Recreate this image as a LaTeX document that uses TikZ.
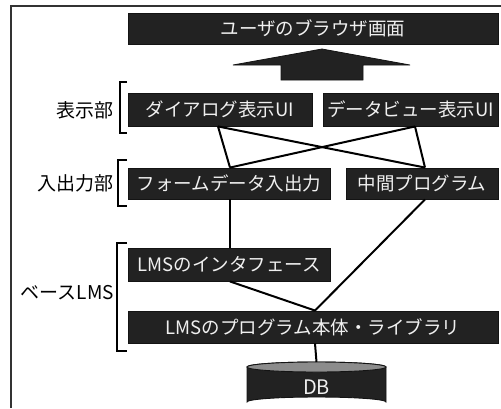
\documentclass[tikz,border=0pt]{standalone}
\usepackage{fontspec}
\setmainfont{Noto Sans CJK JP}
\definecolor{boxc}{RGB}{34,34,34}
\definecolor{edgec}{RGB}{20,20,20}
\definecolor{dbtop}{RGB}{140,140,140}
\begin{document}
\begin{tikzpicture}[x=1pt,y=-1pt,
  blk/.style={draw=edgec, fill=boxc, text={rgb,255:red,240;green,240;blue,240}, inner sep=0pt, line width=0.9pt,
    font=\fontsize{18.5}{20}\selectfont},
  lab/.style={anchor=east, inner sep=0pt, font=\fontsize{19}{20}\selectfont},
  conn/.style={line width=2pt, black},
  brk/.style={line width=1.8pt, black}]
\useasboundingbox (0,0) rectangle (501,408);
% frame
\draw[line width=1.2pt, black!80] (11,408) -- (11,6) -- (501,6);
% boxes
\node[blk, minimum width=370pt, minimum height=31pt] (top) at (313,28.5) {ユーザのブラウザ画面};
\node[blk, minimum width=184pt, minimum height=33pt] (dlg) at (220,109.5) {ダイアログ表示UI};
\node[blk, minimum width=175pt, minimum height=33pt] (dv) at (410.5,109.5) {データビュー表示UI};
\node[blk, minimum width=202pt, minimum height=31pt] (form) at (229,183.5) {フォームデータ入出力};
\node[blk, minimum width=152pt, minimum height=31pt] (mid) at (422,183.5) {中間プログラム};
\node[blk, minimum width=202pt, minimum height=33pt] (lif) at (229,264.5) {LMSのインタフェース};
\node[blk, minimum width=370pt, minimum height=32pt] (lprog) at (313,327) {LMSのプログラム本体・ライブラリ};
% big arrow
\draw[fill=boxc, draw=edgec, line width=0.8pt] (322,49) -- (410,65) -- (363,65) -- (363,80) -- (281,80) -- (281,65) -- (233,65) -- cycle;
% connectors
\coordinate (dlgb) at ([xshift=-2pt]dlg.south);
\coordinate (dvb) at ([xshift=4.5pt]dv.south);
\coordinate (formt) at ([xshift=1pt]form.north);
\coordinate (midt) at ([xshift=3pt]mid.north);
\coordinate (midb) at ([xshift=3pt]mid.south);
\coordinate (formb) at ([xshift=1pt]form.south);
\coordinate (lift) at ([xshift=1pt]lif.north);
\coordinate (lifb) at ([xshift=1pt]lif.south);
\coordinate (lprogt) at ([xshift=2pt]lprog.north);
\coordinate (lprogb) at ([xshift=2pt]lprog.south);
\draw[conn] (dlgb) -- (formt);
\draw[conn] (dlgb) -- (midt);
\draw[conn] (dvb) -- (formt);
\draw[conn] (dvb) -- (midt);
\draw[conn] (formb) -- (lift);
\draw[conn] (midb) -- (lprogt);
\draw[conn] (lifb) -- (lprogt);
% DB cylinder
\coordinate (dbc) at (316.5,367);
\draw[fill=boxc, draw=edgec, line width=0.9pt] (247,367) -- (247,402) arc[start angle=180, end angle=360, x radius=69.5pt, y radius=-5pt] -- (386,367) arc[start angle=0, end angle=180, x radius=69.5pt, y radius=5pt] -- cycle;
\draw[fill=dbtop, draw=edgec, line width=0.9pt] (dbc) ellipse[x radius=69.5pt, y radius=5pt];
\node[blk, draw=none, fill=none, font=\fontsize{20}{22}\selectfont] (db) at (316.5,387) {DB};
\draw[conn] (lprogb) -- (316.5,362);
% labels and brackets
\node[lab] (l1) at (114,110) {表示部};
\node[lab] (l2) at (114,183) {入出力部};
\node[lab] (l3) at (114,293) {ベースLMS};
\draw[brk] (127,82) -- (120,82) -- (120,133) -- (127,133);
\draw[brk] (127,160) -- (118,160) -- (118,206) -- (127,206);
\draw[brk] (127,243) -- (117,243) -- (117,351) -- (127,351);
\end{tikzpicture}
\end{document}
